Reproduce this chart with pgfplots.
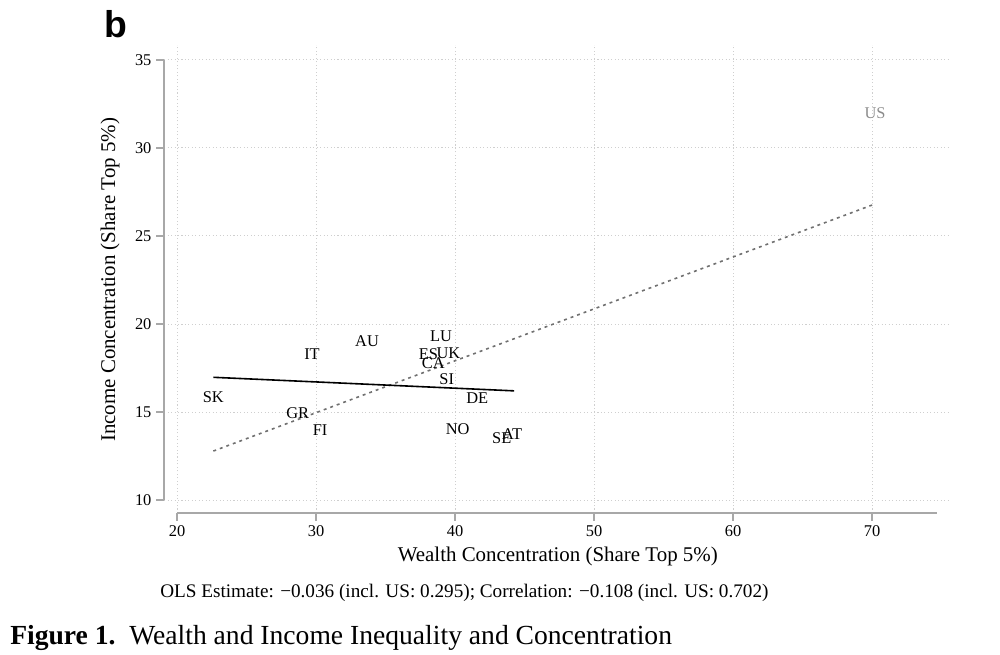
\documentclass[border=0pt]{standalone}
\usepackage{fontspec}
\setmainfont{Liberation Serif}
\newfontfamily\panelfont{Liberation Sans}
\usepackage{pgfplots}
\usepackage{pgfplotstable}
\pgfplotsset{compat=1.18}

\definecolor{axisgray}{HTML}{A8A8A8}
\definecolor{gridgray}{HTML}{CFCFCF}
\definecolor{fitgray}{HTML}{707070}
\definecolor{usgray}{HTML}{8C8C8C}

% country labels: wealth share (x), income share (y)
\pgfplotstableread{
name x y
SK 22.61 15.83
GR 28.68 14.96
FI 30.29 13.98
IT 29.71 18.30
AU 33.67 19.03
LU 38.99 19.28
ES 38.08 18.28
UK 39.52 18.33
CA 38.44 17.77
SI 39.40 16.86
DE 41.60 15.78
NO 40.19 14.03
SE 43.36 13.50
AT 44.10 13.73
}\countries

\pgfplotstableread{
name x y
US 70.22 32.00
}\usdata

\begin{document}
\begin{tikzpicture}
\path[use as bounding box] (0,0) rectangle (750pt,490.5pt);

\begin{axis}[
    at={(123.1pt,105.75pt)}, anchor=south west,
    scale only axis,
    width=589.3pt, height=351pt,
    xmin=19.07, xmax=75.6,
    ymin=9.26, ymax=35.85,
    axis lines*=left,
    axis line style={axisgray, line width=1.4pt},
    x axis line style={shorten <=9.7pt, shorten >=9.4pt},
    y axis line style={shorten <=9.8pt, shorten >=11.2pt},
    xtick={20,30,40,50,60,70},
    ytick={10,15,20,25,30,35},
    tick align=outside,
    major tick length=6pt,
    tick style={axisgray, line width=1pt},
    ticklabel style={font=\fontsize{12.3}{14}\selectfont, text=black},
    /pgf/number format/assume math mode=true,
    grid=major,
    major grid style={gridgray, line width=0.7pt, dash pattern=on 0.8pt off 1.8pt},
    xlabel={Wealth Concentration (Share Top 5\%)},
    ylabel={Income Concentration (Share Top 5\%)},
    label style={font=\fontsize{15.7}{18}\selectfont},
    xlabel style={at={(axis description cs:0.501,-0.092)}, anchor=center},
    ylabel style={at={(axis description cs:-0.0688,0.498)}, anchor=center},
    clip=false,
]
% fitted line including the US
\addplot[fitgray, line width=1.2pt, dash pattern=on 2.2pt off 3pt]
    coordinates {(22.61,12.78) (70.22,26.82)};
% fitted line without the US
\addplot[black, line width=1.2pt]
    coordinates {(22.61,16.97) (44.25,16.20)};
% country labels
\addplot[draw=none, mark=none, nodes near coords, point meta=explicit symbolic,
    every node near coord/.style={anchor=center, inner sep=0pt,
        font=\fontsize{12.3}{14}\selectfont, text=black}]
    table[x=x, y=y, meta=name] {\countries};
\addplot[draw=none, mark=none, nodes near coords, point meta=explicit symbolic,
    every node near coord/.style={anchor=center, inner sep=0pt,
        font=\fontsize{12.3}{14}\selectfont, text=usgray}]
    table[x=x, y=y, meta=name] {\usdata};
\end{axis}

\node[anchor=center, font=\panelfont\bfseries\fontsize{28}{30}\selectfont]
    at (87pt,472.5pt) {b};
\node[anchor=west, inner sep=0pt, font=\fontsize{14.4}{17}\selectfont]
    at (120pt,45.75pt)
    {OLS Estimate: −0.036 (incl. US: 0.295); Correlation: −0.108 (incl. US: 0.702)};
\node[anchor=west, inner sep=0pt, font=\fontsize{20.7}{24}\selectfont]
    at (7.5pt,12pt)
    {\textbf{Figure 1.}\ \ Wealth and Income Inequality and Concentration};
\end{tikzpicture}
\end{document}
